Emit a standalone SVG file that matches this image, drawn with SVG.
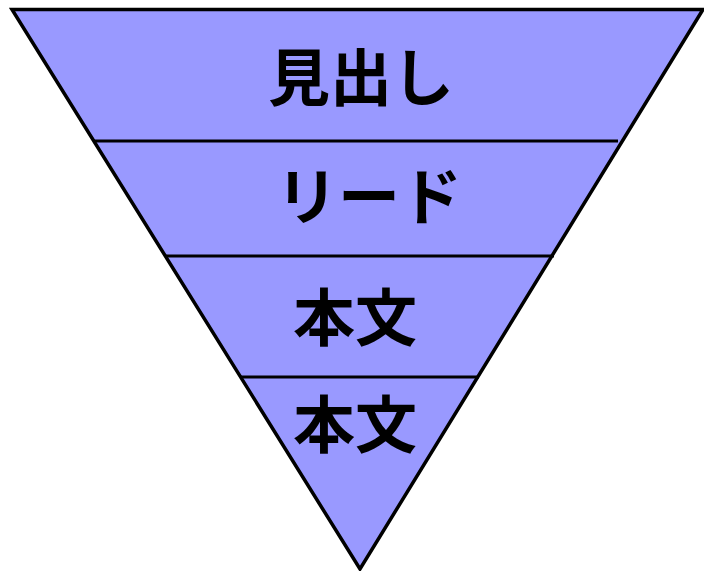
<svg xmlns="http://www.w3.org/2000/svg" width="704" height="571" viewBox="0 0 704 571">
<style>
.tri{fill:#9999FF;stroke:#000;stroke-width:3.5;stroke-linejoin:miter}
.div{stroke:#000;stroke-width:3}
.lbl{font-family:"Noto Sans CJK JP","Noto Sans CJK SC",sans-serif;font-weight:bold;font-size:62px;fill:#000;text-anchor:middle}
</style>
<rect width="704" height="571" fill="#fff"/>
<g id="funnel">
<polygon class="tri" points="12,9.5 703,9.5 360,569"/>
</g>
<g id="connectors">
<line class="div" x1="94" y1="141" x2="618" y2="141"/>
<line class="div" x1="166" y1="256" x2="554" y2="256"/>
<line class="div" x1="240" y1="377" x2="479" y2="377"/>
</g>
<g id="node-midashi"><text class="lbl" x="361" y="101">見出し</text></g>
<g id="node-lead"><text class="lbl" x="369" y="220">リード</text></g>
<g id="node-honbun1"><text class="lbl" x="355" y="341">本文</text></g>
<g id="node-honbun2"><text class="lbl" x="355" y="448">本文</text></g>
</svg>
